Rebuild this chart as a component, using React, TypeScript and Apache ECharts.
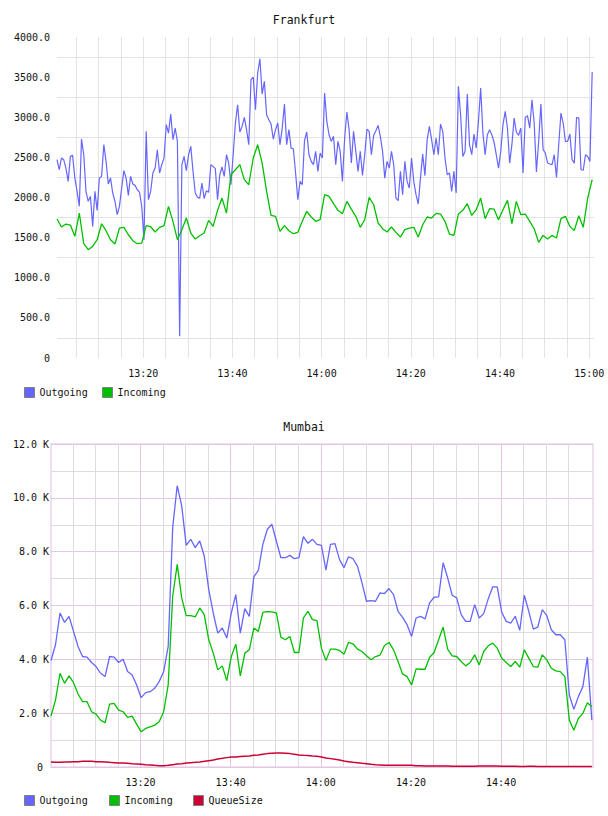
import React, { useEffect, useRef } from 'react';
import * as echarts from 'echarts';

// Time is expressed in minutes after 13:00.
const FRA_OUT_START = 0.67;
const FRA_OUT_STEP = 0.5;
const FRA_IN_START = 0.67;
const FRA_IN_STEP = 1;
const MUM_START = 0.14;
const MUM_STEP = 1;

const frankfurtOutgoing = [
  2471, 2346, 2492, 2471, 2367, 2201, 2512, 2525, 2242, 2076,
  1890, 2728, 2533, 2076, 1952, 2014, 1640, 2076, 1840, 2242,
  2263, 2658, 2450, 2168, 2242, 2056, 1952, 1786, 1890, 2118,
  2334, 2242, 2026, 2263, 2168, 2151, 2097, 2068, 1890, 1474,
  2824, 1973, 2076, 2305, 2367, 2595, 2305, 2409, 2492, 2907,
  2803, 3040, 2720, 2865, 2699, 270, 2409, 2512, 2334, 2533,
  2637, 2325, 2056, 2002, 1993, 2180, 1985, 2085, 2064, 2409,
  2388, 2359, 1973, 2284, 2380, 2263, 2533, 2430, 2159, 2533,
  2928, 3156, 2816, 2886, 2998, 2845, 2658, 3468, 3501, 3094,
  3551, 3729, 3289, 3447, 3032, 2969, 2915, 2728, 2845, 2928,
  2658, 2865, 3164, 2658, 2845, 2616, 2608, 2305, 1973, 2201,
  2159, 2708, 2816, 2533, 2450, 2409, 2575, 2325, 2554, 2492,
  3301, 2948, 2782, 2699, 2762, 2409, 2699, 2575, 2201, 2741,
  3065, 2845, 2429, 2824, 2575, 2326, 2575, 2276, 2533, 2853,
  2824, 2533, 2774, 2832, 2899, 2762, 2575, 2242, 2450, 2367,
  2575, 2409, 1993, 1960, 2325, 2035, 2450, 2201, 2118, 2492,
  2201, 2035, 1919, 2242, 2541, 2273, 2720, 2886, 2720, 2533,
  2741, 2533, 2915, 2824, 2492, 2284, 2305, 2076, 2326, 2056,
  3385, 3032, 2512, 2575, 3289, 2658, 2533, 2791, 2616, 2948,
  3364, 2803, 2533, 2782, 2845, 2782, 2691, 2533, 2367, 2575,
  2907, 3073, 2865, 2429, 2658, 2990, 2816, 2774, 2865, 2305,
  2998, 3019, 2865, 3218, 2928, 2317, 2699, 3164, 2596, 2554,
  2430, 2417, 2409, 2533, 2251, 2658, 3052, 2928, 2699, 2699,
  2791, 2471, 2429, 2998, 2990, 2346, 2342, 2533, 2512, 2450,
  3563,
];

const frankfurtIncoming = [
  1732, 1632, 1669, 1657, 1516, 1806, 1424, 1350, 1391, 1474,
  1673, 1586, 1474, 1420, 1619, 1628, 1536, 1462, 1424, 1432,
  1649, 1636, 1570, 1628, 1649, 1890, 1703, 1474, 1599, 1744,
  1557, 1482, 1524, 1557, 1715, 1640, 1840, 1993, 1806, 2284,
  2346, 2409, 2222, 2159, 2492, 2658, 2429, 2076, 1777, 1765,
  1578, 1649, 1586, 1549, 1566, 1703, 1827, 1757, 1703, 1723,
  2035, 2014, 1923, 1840, 1798, 1952, 1856, 1765, 1628, 1723,
  2002, 1910, 1682, 1611, 1570, 1632, 1566, 1507, 1599, 1619,
  1628, 1507, 1661, 1757, 1744, 1802, 1794, 1703, 1545, 1528,
  1794, 1840, 1923, 1777, 1848, 1993, 1736, 1861, 1856, 1723,
  1848, 1964, 1673, 1952, 1786, 1794, 1703, 1611, 1441, 1528,
  1482, 1528, 1495, 1736, 1765, 1640, 1590, 1773, 1628, 1993,
  2222,
];

const mumbaiOutgoing = [
  3956, 4541, 5722, 5374, 5598, 5038, 4478, 4105, 4080, 3881,
  3732, 3483, 3359, 4105, 4080, 3881, 4006, 3545, 3421, 3048,
  2575, 2762, 2799, 2923, 3172, 3545, 4478, 8900, 10450, 9703,
  8235, 8459, 8148, 8397, 7837, 6593, 5722, 4976, 5163, 4789,
  5722, 6407, 4976, 5884, 5598, 7066, 7302, 8273, 8832, 9019,
  8397, 7775, 7775, 7862, 7738, 7775, 8559, 8310, 8459, 8273,
  8235, 7315, 8273, 8298, 7713, 7402, 7812, 7738, 7464, 6842,
  6158, 6183, 6158, 6469, 6444, 6631, 6407, 5785, 5561, 5287,
  4852, 5536, 5598, 5499, 6096, 6307, 6320, 7588, 7029, 6382,
  6282, 5660, 5411, 5411, 6033, 5536, 5698, 6245, 6693, 6693,
  5747, 5411, 5349, 5598, 5075, 6382, 5785, 5125, 5200, 5847,
  5623, 5100, 4914, 4914, 4727, 2675, 2140, 2612, 2986, 4080,
  1742,
];

const mumbaiIncoming = [
  1891, 2488, 3483, 3110, 3384, 3135, 2712, 2426, 2426, 2053,
  1966, 1742, 1642, 2339, 2364, 2115, 2053, 1841, 1891, 1592,
  1306, 1431, 1493, 1555, 1679, 2053, 3048, 6344, 7526, 6282,
  5623, 5623, 5573, 5909, 5660, 4727, 4230, 3608, 3757, 3210,
  4105, 4565, 3384, 4230, 4354, 5163, 5038, 5747, 5772, 5760,
  5722, 4827, 4727, 4852, 4254, 4254, 5536, 5785, 5474, 5436,
  4416, 3956, 4379, 4379, 4329, 4192, 4628, 4578, 4379, 4292,
  4130, 3981, 4105, 4155, 4516, 4628, 4354, 3919, 3458, 3359,
  3048, 3645, 3632, 3632, 4080, 4254, 4727, 5200, 4379, 4130,
  4105, 3919, 3757, 3881, 4167, 3794, 4292, 4503, 4603, 4416,
  4043, 3881, 3732, 3919, 3707, 4354, 4043, 3732, 3707, 4167,
  3981, 3670, 3570, 3545, 3359, 1742, 1368, 1804, 1990, 2389,
  2239,
];

const mumbaiQueueSize = [
  187, 174, 174, 187, 187, 199, 199, 211, 211, 211,
  199, 199, 187, 174, 162, 149, 149, 137, 124, 112,
  100, 87, 75, 62, 50, 50, 62, 87, 112, 124,
  149, 162, 174, 187, 211, 236, 261, 299, 323, 348,
  373, 373, 386, 398, 410, 435, 448, 473, 497, 510,
  522, 522, 510, 497, 473, 448, 435, 423, 410, 398,
  373, 336, 311, 286, 261, 224, 199, 174, 162, 137,
  124, 100, 87, 75, 62, 62, 62, 62, 62, 62,
  62, 50, 50, 37, 37, 37, 37, 37, 37, 25,
  25, 25, 25, 25, 25, 37, 37, 37, 37, 37,
  25, 25, 25, 25, 20, 20, 25, 25, 20, 20,
  20, 20, 20, 20, 20, 20, 20, 20, 20, 20,
  20,
];

// Axis ranges, labels and grid positions (minutes after 13:00)
const frankfurtRange = [0.67, 121.08];
const mumbaiRange = [0.14, 120.39];
const frankfurtTimeLabels = [20, 40, 60, 80, 100, 120];
const mumbaiTimeLabels = [20, 40, 60, 80, 100];
const frankfurtTimeGrid = [5, 10, 15, 20, 25, 30, 35, 40, 45, 50, 55, 60, 65, 70, 75, 80, 85, 90, 95, 100, 105, 110, 115, 120];
const mumbaiTimeGrid = [5, 10, 15, 20, 25, 30, 35, 40, 45, 50, 55, 60, 65, 70, 75, 80, 85, 90, 95, 100, 105, 110, 115];
const mumbaiMajorTimeGrid = [20, 40, 60, 80, 100];

const COLORS = {
  outgoing: '#6666ff',
  incoming: '#00c000',
  queue: '#cc0033',
};

const MONO = "'DejaVu Sans Mono', 'Liberation Mono', monospace";

function clock(m: number): string {
  const total = Math.round(m);
  const h = 13 + Math.floor(total / 60);
  const mm = total % 60;
  return `${h}:${String(mm).padStart(2, '0')}`;
}

function toPoints(values: number[], start: number, step: number) {
  return values.map((v, i) => [start + i * step, v]);
}

function timeLines(minutes: number[], colorFor: (m: number) => string) {
  return {
    silent: true,
    z: 1,
    symbol: ['none', 'none'],
    animation: false,
    label: { show: false },
    emphasis: { disabled: true },
    data: minutes.map((m) => ({
      xAxis: m,
      lineStyle: { color: colorFor(m), width: 1, type: 'solid' },
    })),
  };
}

function lineSeries(name: string, color: string, data: number[][], axis: number, width: number) {
  return {
    name,
    type: 'line',
    xAxisIndex: axis,
    yAxisIndex: axis,
    data,
    symbol: 'none',
    showSymbol: false,
    z: 3,
    color,
    lineStyle: { color, width },
    itemStyle: { color },
    emphasis: { disabled: true },
  };
}

function legendItem(name: string, left: number, top: number) {
  return {
    data: [name],
    left,
    top,
    padding: 0,
    icon: 'rect',
    itemWidth: 10,
    itemHeight: 10,
    selectedMode: false,
    itemStyle: { borderColor: '#808080', borderWidth: 1 },
    textStyle: { fontFamily: MONO, fontSize: 10, color: '#111' },
  };
}

export default function App() {
  const ref = useRef<HTMLDivElement>(null);

  useEffect(() => {
    if (!ref.current) return;
    const chart = echarts.init(ref.current, undefined, { renderer: 'svg' });

    const option = {
      animation: false,
      backgroundColor: '#ffffff',
      title: [
        {
          text: 'Frankfurt',
          left: 'center',
          top: 14,
          padding: 0,
          textStyle: { fontFamily: MONO, fontSize: 11.5, fontWeight: 'normal', color: '#111' },
        },
        {
          text: 'Mumbai',
          left: 'center',
          top: 421,
          padding: 0,
          textStyle: { fontFamily: MONO, fontSize: 11.5, fontWeight: 'normal', color: '#111' },
        },
      ],
      legend: [
        legendItem('Outgoing', 24, 387),
        legendItem('Incoming', 102, 387),
        legendItem('Outgoing', 24, 795),
        legendItem('Incoming', 109, 795),
        legendItem('QueueSize', 193, 795),
      ],
      grid: [
        { left: 57, top: 37, width: 537, height: 321, show: false },
        {
          left: 51,
          top: 444,
          width: 542,
          height: 323,
          show: true,
          borderColor: '#f0dff0',
          borderWidth: 2,
          backgroundColor: 'transparent',
        },
      ],
      xAxis: [
        {
          type: 'value',
          gridIndex: 0,
          min: frankfurtRange[0],
          max: frankfurtRange[1],
          axisLine: { show: false },
          axisTick: { show: false },
          splitLine: { show: false },
          axisLabel: {
            customValues: frankfurtTimeLabels,
            margin: 10,
            fontFamily: MONO,
            fontSize: 10,
            color: '#111',
            formatter: (v: number) =>
              frankfurtTimeLabels.some((t) => Math.abs(t - v) < 1e-6) ? clock(v) : '',
          },
        },
        {
          type: 'value',
          gridIndex: 1,
          min: mumbaiRange[0],
          max: mumbaiRange[1],
          axisLine: { show: false },
          axisTick: { show: false },
          splitLine: { show: false },
          axisLabel: {
            customValues: mumbaiTimeLabels,
            margin: 10,
            fontFamily: MONO,
            fontSize: 10,
            color: '#111',
            formatter: (v: number) =>
              mumbaiTimeLabels.some((t) => Math.abs(t - v) < 1e-6) ? clock(v) : '',
          },
        },
      ],
      yAxis: [
        {
          type: 'value',
          gridIndex: 0,
          min: 0,
          max: 4000,
          interval: 500,
          axisLine: { show: false },
          axisTick: { show: false },
          splitLine: { show: false },
          minorTick: { show: false, splitNumber: 2 },
          minorSplitLine: { show: true, lineStyle: { color: '#e3e3e3', width: 1 } },
          axisLabel: {
            margin: 7,
            fontFamily: MONO,
            fontSize: 10,
            color: '#111',
            formatter: (v: number) => (v === 0 ? '0' : v.toFixed(1)),
          },
        },
        {
          type: 'value',
          gridIndex: 1,
          min: 0,
          max: 12000,
          interval: 2000,
          axisLine: { show: false },
          axisTick: { show: false },
          splitLine: { show: true, lineStyle: { color: '#e2c6e2', width: 1 } },
          minorTick: { show: false, splitNumber: 2 },
          minorSplitLine: { show: true, lineStyle: { color: '#dcdcdc', width: 1 } },
          axisLabel: {
            margin: 2,
            fontFamily: MONO,
            fontSize: 10,
            color: '#111',
            formatter: (v: number) => (v === 0 ? '0\u00a0' : `${(v / 1000).toFixed(1)} K`),
          },
        },
      ],
      series: [
        {
          name: 'frankfurt-time-grid',
          type: 'line',
          xAxisIndex: 0,
          yAxisIndex: 0,
          data: [],
          silent: true,
          z: 1,
          markLine: timeLines(frankfurtTimeGrid, () => '#e3e3e3'),
        },
        {
          name: 'mumbai-time-grid',
          type: 'line',
          xAxisIndex: 1,
          yAxisIndex: 1,
          data: [],
          silent: true,
          z: 1,
          markLine: timeLines(mumbaiTimeGrid, (m) =>
            mumbaiMajorTimeGrid.includes(m) ? '#e2c6e2' : '#dcdcdc'
          ),
        },
        lineSeries('Outgoing', COLORS.outgoing, toPoints(frankfurtOutgoing, FRA_OUT_START, FRA_OUT_STEP), 0, 1.2),
        lineSeries('Incoming', COLORS.incoming, toPoints(frankfurtIncoming, FRA_IN_START, FRA_IN_STEP), 0, 1.3),
        lineSeries('Outgoing', COLORS.outgoing, toPoints(mumbaiOutgoing, MUM_START, MUM_STEP), 1, 1.3),
        lineSeries('Incoming', COLORS.incoming, toPoints(mumbaiIncoming, MUM_START, MUM_STEP), 1, 1.3),
        lineSeries('QueueSize', COLORS.queue, toPoints(mumbaiQueueSize, MUM_START, MUM_STEP), 1, 1.5),
      ],
    };

    chart.setOption(option as any);
    return () => chart.dispose();
  }, []);

  return (
    <div
      ref={ref}
      style={{ position: 'absolute', left: 0, top: 0, width: 608, height: 816 }}
    />
  );
}
